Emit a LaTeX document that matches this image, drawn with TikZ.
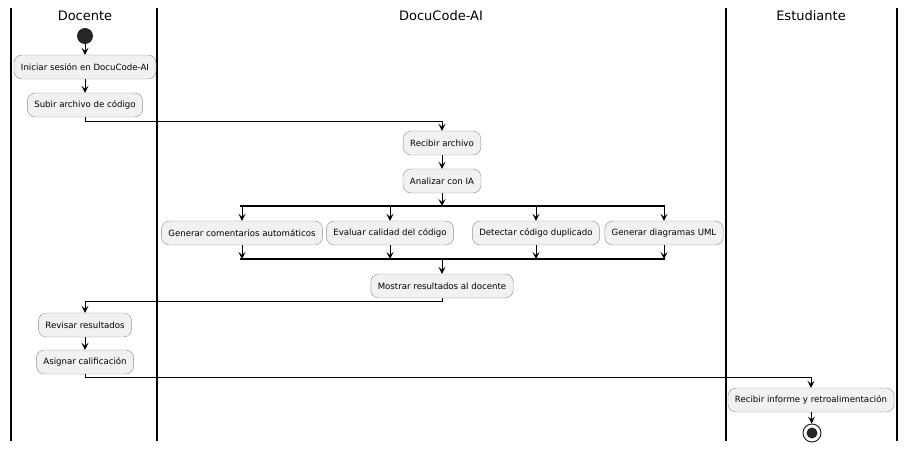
\documentclass[tikz,border=0pt]{standalone}
\usepackage{fontspec}
\setmainfont{DejaVu Sans}
\usetikzlibrary{arrows.meta}
\definecolor{actfill}{RGB}{241,241,241}
\definecolor{actline}{RGB}{140,140,140}
\tikzset{
  act/.style={draw=actline, fill=actfill, rounded corners=8pt, minimum height=24pt, inner xsep=7pt, font=\fontsize{8.6}{10}\selectfont},
  flow/.style={-{Stealth[length=7pt,width=7pt,inset=3pt]}, line width=0.9pt},
  lane/.style={line width=1.3pt},
  bar/.style={line width=2.2pt},
  lanetitle/.style={font=\fontsize{13}{15}\selectfont}
}
\begin{document}
\begin{tikzpicture}[x=1pt,y=1pt,yscale=-1,xscale=1]
    \useasboundingbox (0,0) rectangle (910,449);

    %Swimlanes
    \draw [lane] (11,8) -- (11,441) ;
    \draw [lane] (157,8) -- (157,441) ;
    \draw [lane] (726,8) -- (726,441) ;
    \draw [lane] (897,8) -- (897,441) ;

    % Text Node
    \node (docente) [lanetitle] at (85,16) {Docente};
    \node (docucode) [lanetitle] at (441,16) {DocuCode-AI};
    \node (estudiante) [lanetitle] at (811,16) {Estudiante};

    %Start
    \node (inicio) [circle, fill=black!85, minimum size=16pt, inner sep=0pt] at (85,36) {};

    % Activities
    \node (iniciar) [act] at (85,67) {Iniciar sesión en DocuCode-AI};
    \node (subir) [act] at (85,105) {Subir archivo de código};
    \node (recibir) [act] at (442,143) {Recibir archivo};
    \node (analizar) [act] at (442,181) {Analizar con IA};
    \node (comentarios) [act] at (242,233) {Generar comentarios automáticos};
    \node (calidad) [act] at (390,233) {Evaluar calidad del código};
    \node (duplicado) [act] at (536,233) {Detectar código duplicado};
    \node (uml) [act] at (664,233) {Generar diagramas UML};
    \node (mostrar) [act] at (442,286) {Mostrar resultados al docente};
    \node (revisar) [act] at (85,325) {Revisar resultados};
    \node (asignar) [act] at (85,362) {Asignar calificación};
    \node (informe) [act] at (811,400) {Recibir informe y retroalimentación};

    %End
    \node (fin) [circle, draw=black!85, line width=1pt, minimum size=18pt, inner sep=0pt] at (812,433) {};
    \node [circle, fill=black!85, minimum size=11pt, inner sep=0pt] at (fin) {};

    %Fork and join bars
    \coordinate (forkL) at (240,206);
    \coordinate (forkR) at (665,206);
    \coordinate (joinL) at (240,259);
    \coordinate (joinR) at (665,259);
    \draw [bar] (forkL) -- (forkR) ;
    \draw [bar] (joinL) -- (joinR) ;

    %Connectors
    \draw [flow] (inicio) -- (iniciar) ;
    \draw [flow] (iniciar) -- (subir) ;
    \draw [flow] (subir.south) -- ++(0,4) -| (recibir.north) ;
    \draw [flow] (recibir) -- (analizar) ;
    \draw [flow] (analizar.south) -- (analizar.south |- forkL) ;
    \foreach \a in {comentarios,calidad,duplicado,uml} {
      \draw [flow] (\a.north |- forkL) -- (\a.north) ;
      \draw [flow] (\a.south) -- (\a.south |- joinL) ;
    }
    \draw [flow] (mostrar.north |- joinL) -- (mostrar.north) ;
    \draw [flow] (mostrar.south) -- ++(0,3) -| (revisar.north) ;
    \draw [flow] (revisar) -- (asignar) ;
    \draw [flow] (asignar.south) -- ++(0,3) -| (informe.north) ;
    \draw [flow] (informe) -- (fin) ;

\end{tikzpicture}
\end{document}
